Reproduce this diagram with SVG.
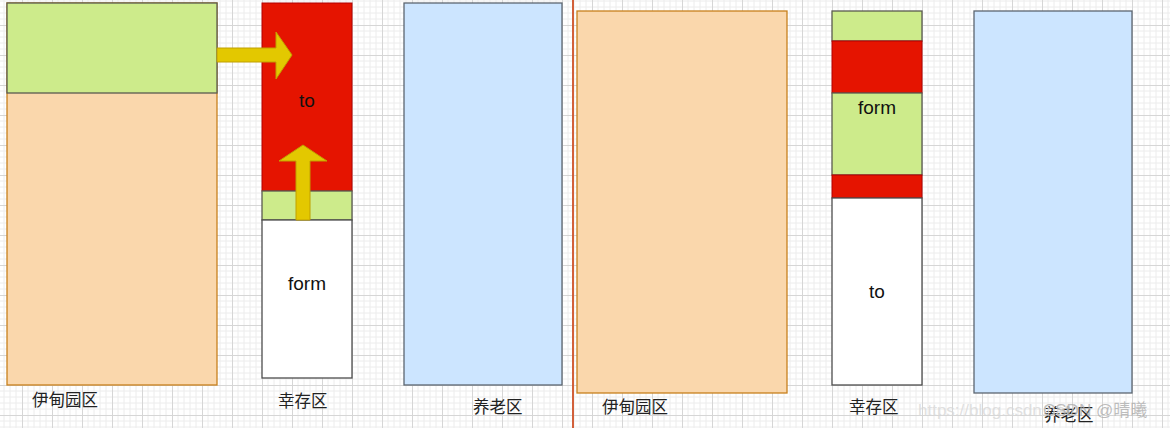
<svg xmlns="http://www.w3.org/2000/svg" width="1170" height="428" viewBox="0 0 1170 428">
<defs>
<pattern id="grid" x="22" y="25" width="30" height="30" patternUnits="userSpaceOnUse">
<path d="M6 0V30M12 0V30M18 0V30M24 0V30M0 6H30M0 12H30M0 18H30M0 24H30" stroke="#ececec" stroke-width="1" fill="none"/>
<path d="M0.5 0V30M0 0.5H30" stroke="#d6d6d6" stroke-width="1" fill="none"/>
</pattern>
</defs>
<style>
.eden{fill:#fad7ac;stroke:#c8801c;stroke-width:1.3}
.green{fill:#cdeb8b;stroke:#5a5a50;stroke-width:1.3}
.red{fill:#e51400;stroke:#b20000;stroke-width:1}
.white{fill:#ffffff;stroke:#4d4d4d;stroke-width:1.3}
.blue{fill:#cce5ff;stroke:#5c6670;stroke-width:1.3}
.arrow{fill:#e3c800;stroke:#c0a000;stroke-width:1}
.t{font-family:"Liberation Sans","Noto Sans",sans-serif;font-size:19px;fill:#111;text-anchor:middle}
.lbl{font-family:"Noto Sans CJK SC","Liberation Sans",sans-serif;font-size:16.5px;fill:#222}
.wm{font-family:"Liberation Sans","Noto Sans CJK SC",sans-serif;font-size:17px}
</style>
<rect width="1170" height="428" fill="#ffffff"/>
<rect width="1170" height="428" fill="url(#grid)"/>

<g id="eden-left">
<rect class="eden" x="7" y="3" width="210" height="382"/>
<rect class="green" x="7" y="3" width="210" height="90"/>
<text class="lbl" x="32" y="406">伊甸园区</text>
</g>

<g id="survivor-left">
<rect class="red" x="262" y="3" width="90" height="188"/>
<rect class="green" x="262" y="191" width="90" height="29"/>
<rect class="white" x="262" y="220" width="90" height="158"/>
<text class="t" x="307" y="107">to</text>
<text class="t" x="307" y="290">form</text>
<text class="lbl" x="278" y="407">幸存区</text>
</g>

<g id="old-left">
<rect class="blue" x="404" y="3" width="158" height="382"/>
<text class="lbl" x="473" y="413">养老区</text>
</g>

<g id="divider">
<line x1="573" y1="0" x2="573" y2="428" stroke="#d2603a" stroke-width="2"/>
</g>

<g id="eden-right">
<rect class="eden" x="577" y="11" width="210" height="382"/>
<text class="lbl" x="602" y="413">伊甸园区</text>
</g>

<g id="survivor-right">
<rect class="green" x="832" y="11" width="90" height="30"/>
<rect class="red" x="832" y="41" width="90" height="52"/>
<rect class="green" x="832" y="93" width="90" height="82"/>
<rect class="red" x="832" y="175" width="90" height="23"/>
<rect class="white" x="832" y="198" width="90" height="187"/>
<text class="t" x="877" y="114">form</text>
<text class="t" x="877" y="298">to</text>
<text class="lbl" x="849" y="413">幸存区</text>
</g>

<g id="old-right">
<rect class="blue" x="974" y="11" width="158" height="382"/>
<text class="lbl" x="1044" y="421">养老区</text>
</g>

<g id="connectors">
<path class="arrow" d="M217 48H276V32L292 55L276 79V62H217Z"/>
<path class="arrow" d="M296 220V161H279L303 145L327 161H310V220Z"/>
</g>

<g id="watermark">
<text class="wm" x="918" y="416" fill="#d8d8d8" fill-opacity="0.8">https://blog.csdn.net/</text>
<text class="wm" x="1043" y="416" fill="#a8a8a8" fill-opacity="0.75">CSDN @晴曦</text>
</g>
</svg>
